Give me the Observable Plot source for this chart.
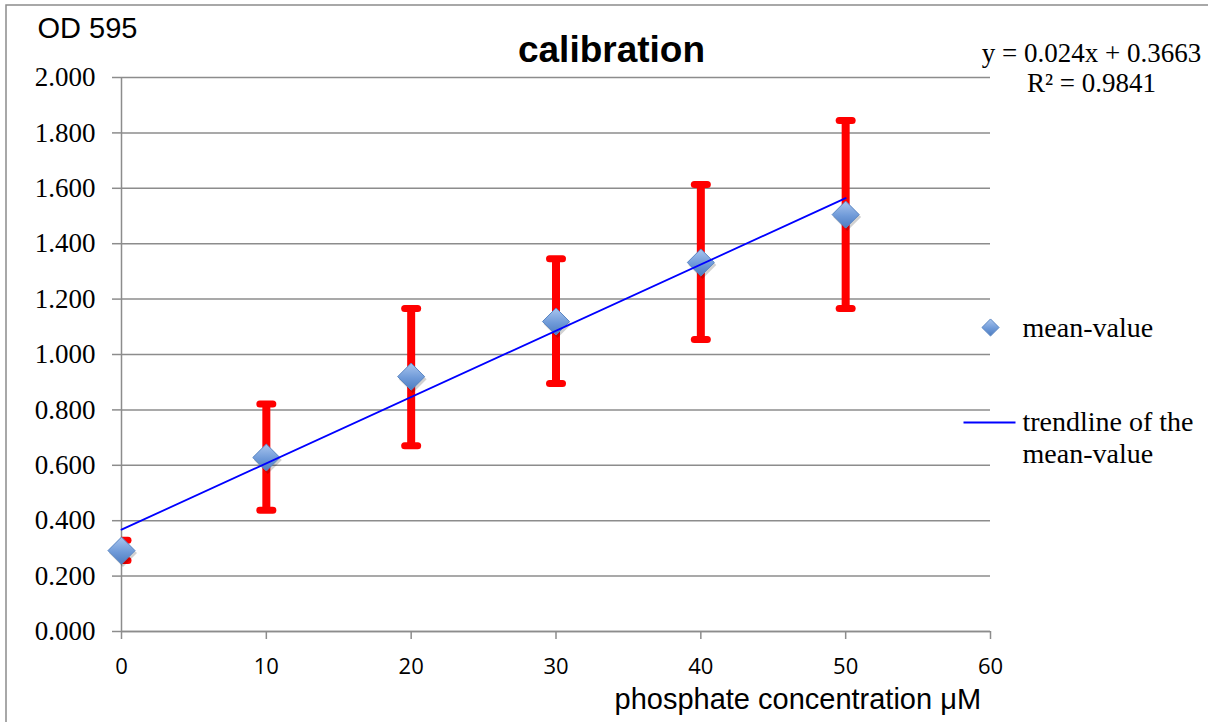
<!DOCTYPE html>
<html>
<head>
<meta charset="utf-8">
<script src="https://cdn.jsdelivr.net/npm/d3@7"></script>
<script src="https://cdn.jsdelivr.net/npm/@observablehq/plot@0.6"></script>
<style>
  body { margin: 0; background: #fff; }
  #chart { position: relative; width: 1208px; height: 722px; overflow: hidden; }
</style>
</head>
<body>
<div id="chart"></div>
<script>
// ---- data ----
const concentration = [0, 10, 20, 30, 40, 50];
const meanOD  = [0.292, 0.628, 0.920, 1.119, 1.332, 1.505];
const errLow  = [0.256, 0.438, 0.671, 0.895, 1.054, 1.166];
const errHigh = [0.329, 0.821, 1.166, 1.346, 1.614, 1.845];
const xTicks = [0, 10, 20, 30, 40, 50, 60];
const yTicks = [0, 0.2, 0.4, 0.6, 0.8, 1.0, 1.2, 1.4, 1.6, 1.8, 2.0];
const titleText = "calibration";
const yLabel = "OD 595";
const xLabel = "phosphate concentration μM";
const equationLines = ["y = 0.024x + 0.3663", "R² = 0.9841"];
const legendMean = "mean-value";
const legendTrend = ["trendline of the", "mean-value"];

const data = concentration.map((x, i) => ({x, mean: meanOD[i], lo: errLow[i], hi: errHigh[i]}));

const SERIF = "'Liberation Serif', 'DejaVu Serif', serif";
const SANS = "'Liberation Sans', Arial, sans-serif";
const TICKSANS = "'Open Sans', 'Liberation Sans', sans-serif";
const GRID = "#8c8c8c";

// horizontal line symbol (error bar caps, legend line)
const hline = {
  draw(ctx, size) {
    const r = Math.sqrt(size / Math.PI);
    ctx.moveTo(-r, 0);
    ctx.lineTo(r, 0);
  }
};

const plot = Plot.plot({
  width: 1208,
  height: 722,
  marginLeft: 121,
  marginRight: 218,
  marginTop: 77,
  marginBottom: 91,
  style: {background: "white", overflow: "visible"},
  x: {domain: [0, 60]},
  y: {domain: [0, 2]},
  marks: [
    Plot.gridY(yTicks, {stroke: GRID, strokeOpacity: 1, strokeWidth: 1.5}),
    Plot.ruleX([0], {stroke: GRID, strokeWidth: 1.5}),
    Plot.ruleY([0], {stroke: GRID, strokeWidth: 1.5}),
    Plot.axisY({ticks: yTicks, tickFormat: d3.format(".3f"), tickSize: 9, tickPadding: 17,
      stroke: GRID, strokeWidth: 1.5, fill: "black", fontSize: 27, fontFamily: SERIF, label: null}),
    Plot.axisX({ticks: xTicks, tickFormat: () => "", tickSize: 8,
      stroke: GRID, strokeWidth: 1.5, label: null}),
    Plot.text(xTicks, {x: d => d, y: () => 0, dy: 42, text: d => String(d), textAnchor: "middle",
      lineAnchor: "bottom", fontSize: 22, fontFamily: TICKSANS, fill: "black"}),

    // error bars
    Plot.ruleX(data, {x: "x", y1: "lo", y2: "hi", stroke: "#ff0000", strokeWidth: 8, clip: true}),
    Plot.dot(data, {x: "x", y: "lo", symbol: hline, r: 6.5, fill: "none", stroke: "#ff0000",
      strokeWidth: 7, strokeLinecap: "round", clip: true}),
    Plot.dot(data, {x: "x", y: "hi", symbol: hline, r: 6.5, fill: "none", stroke: "#ff0000",
      strokeWidth: 7, strokeLinecap: "round", clip: true}),

    // mean markers (shadow + diamond)
    Plot.dot(data, {x: "x", y: "mean", symbol: "diamond2", r: 12.6, dx: 1.5, dy: 2.5,
      fill: "#000", fillOpacity: 0.18, stroke: "none"}),
    Plot.dot(data, {x: "x", y: "mean", symbol: "diamond2", r: 12.2,
      fill: "url(#diamondGrad)", stroke: "#5a86c3", strokeWidth: 1}),

    // trendline (least squares of the means)
    Plot.linearRegressionY(data, {x: "x", y: "mean", stroke: "#0000ff", strokeWidth: 1.8, ci: 0}),

    // title and axis labels
    Plot.text([titleText], {frameAnchor: "top-left", dx: 490, dy: -16, textAnchor: "middle",
      lineAnchor: "bottom", fontSize: 37, fontWeight: "bold", fontFamily: SANS, fill: "black"}),
    Plot.text([yLabel], {frameAnchor: "top-left", dx: -84, dy: -40, textAnchor: "start",
      lineAnchor: "bottom", fontSize: 29, fontFamily: SANS, fill: "black"}),
    Plot.text([xLabel], {frameAnchor: "bottom-left", dx: 493, dy: 77, textAnchor: "start",
      lineAnchor: "bottom", fontSize: 29, fontFamily: SANS, fill: "black"}),

    // regression equation
    Plot.text([equationLines[0]], {frameAnchor: "top-left", dx: 970, dy: -16, textAnchor: "middle",
      lineAnchor: "bottom", fontSize: 27, fontFamily: SERIF, fill: "black"}),
    Plot.text([equationLines[1]], {frameAnchor: "top-left", dx: 970, dy: 14, textAnchor: "middle",
      lineAnchor: "bottom", fontSize: 27, fontFamily: SERIF, fill: "black"}),

    // legend
    Plot.dot([legendMean], {frameAnchor: "top-left", dx: 869, dy: 250, symbol: "diamond2", r: 7.7,
      fill: "url(#diamondGrad)", stroke: "#5a86c3", strokeWidth: 1}),
    Plot.text([legendMean], {frameAnchor: "top-left", dx: 901, dy: 259, textAnchor: "start",
      lineAnchor: "bottom", fontSize: 28, fontFamily: SERIF, fill: "black"}),
    Plot.dot([legendTrend[0]], {frameAnchor: "top-left", dx: 868, dy: 345, symbol: hline, r: 26,
      fill: "none", stroke: "#0000ff", strokeWidth: 1.8}),
    Plot.text([legendTrend[0]], {frameAnchor: "top-left", dx: 901, dy: 353, textAnchor: "start",
      lineAnchor: "bottom", fontSize: 28, fontFamily: SERIF, fill: "black"}),
    Plot.text([legendTrend[1]], {frameAnchor: "top-left", dx: 901, dy: 385, textAnchor: "start",
      lineAnchor: "bottom", fontSize: 28, fontFamily: SERIF, fill: "black"})
  ]
});

// gradient definition for diamonds + outer chart border
const svg = d3.select(plot);
const defs = svg.insert("defs", ":first-child");
const grad = defs.append("linearGradient").attr("id", "diamondGrad")
  .attr("x1", 0).attr("y1", 0).attr("x2", 0).attr("y2", 1);
grad.append("stop").attr("offset", "0%").attr("stop-color", "#a9c5ee");
grad.append("stop").attr("offset", "55%").attr("stop-color", "#6f9ad8");
grad.append("stop").attr("offset", "100%").attr("stop-color", "#4d7cc0");
svg.append("rect").attr("x", 6).attr("y", 5).attr("width", 1400).attr("height", 900)
  .attr("fill", "none").attr("stroke", GRID).attr("stroke-width", 1.5);

document.getElementById("chart").appendChild(plot);
</script>
</body>
</html>
